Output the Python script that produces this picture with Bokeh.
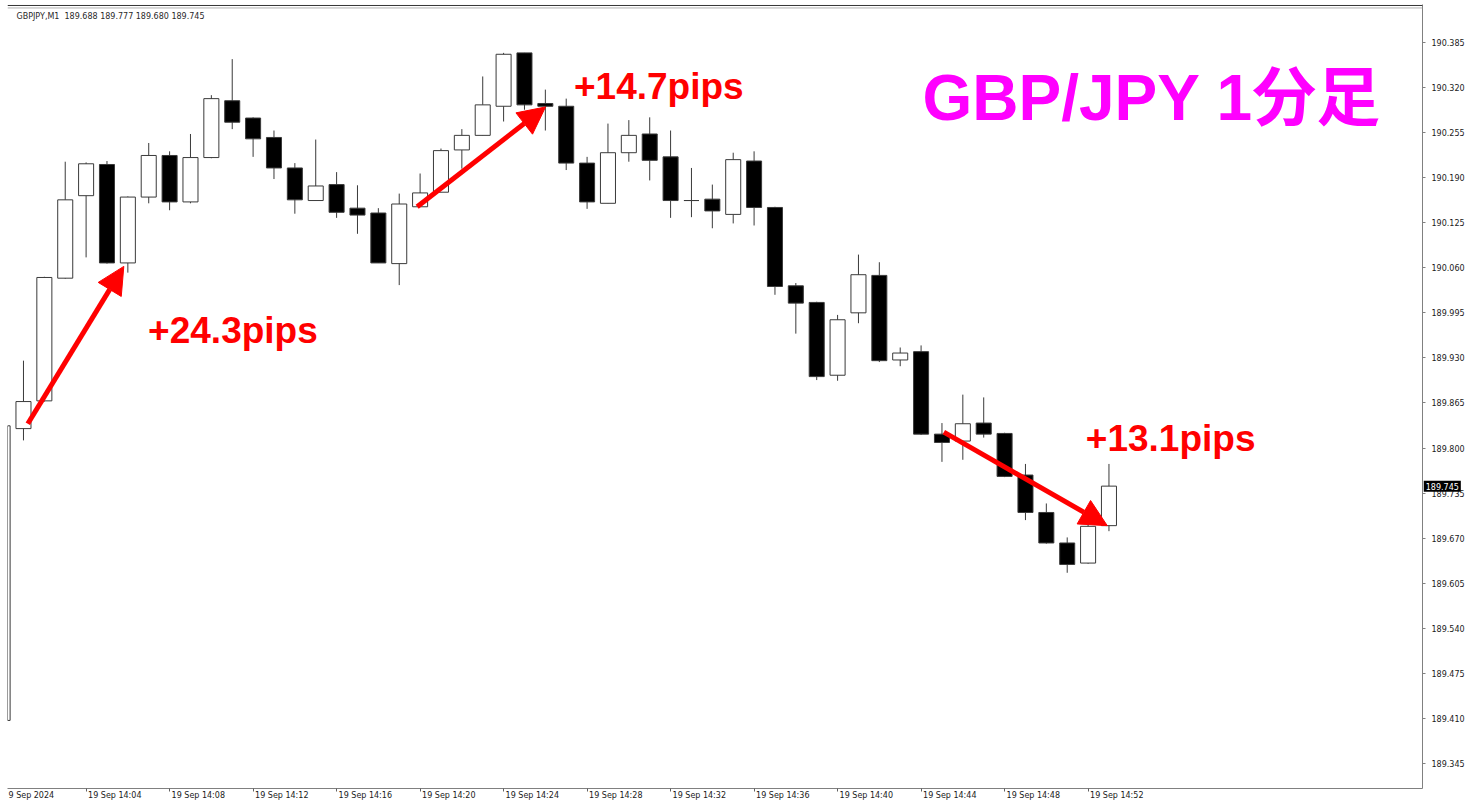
from bokeh.plotting import figure
from bokeh.models import (Range1d, FixedTicker, Label, ColumnDataSource,
                          Arrow, NormalHead, Span, NumeralTickFormatter)
from bokeh.embed import file_html
from bokeh.resources import INLINE

# ---------------- data (GBP/JPY, M1, 19 Sep 2024, 14:00 .. 14:53) ----------------
symbol = "GBPJPY,M1"
minute = list(range(0, 54))  # minutes after 14:00
opens = [189.407, 189.828, 189.868, 190.045, 190.164, 190.209, 190.067, 190.162, 190.222, 190.155,
         190.219, 190.301, 190.276, 190.248, 190.204, 190.157, 190.180, 190.146, 190.139, 190.066,
         190.148, 190.169, 190.230, 190.251, 190.293, 190.370, 190.297, 190.293, 190.211, 190.153,
         190.226, 190.253, 190.220, 190.157, 190.159, 190.137, 190.214, 190.147, 190.034, 190.010,
         189.905, 189.995, 190.049, 189.927, 189.939, 189.820, 189.810, 189.836, 189.821, 189.761,
         189.707, 189.663, 189.634, 189.688]
highs = [189.832, 189.926, 190.047, 190.213, 190.212, 190.214, 190.163, 190.240, 190.228, 190.253,
         190.309, 190.361, 190.277, 190.258, 190.211, 190.245, 190.198, 190.179, 190.146, 190.167,
         190.196, 190.232, 190.260, 190.336, 190.370, 190.370, 190.317, 190.304, 190.220, 190.268,
         190.273, 190.277, 190.258, 190.204, 190.180, 190.226, 190.228, 190.148, 190.038, 190.011,
         189.992, 190.079, 190.068, 189.945, 189.948, 189.836, 189.877, 189.873, 189.822, 189.777,
         189.720, 189.671, 189.693, 189.777]
lows = [189.407, 189.811, 189.867, 190.044, 190.075, 190.066, 190.053, 190.153, 190.143, 190.153,
        190.218, 190.260, 190.220, 190.188, 190.138, 190.157, 190.132, 190.109, 190.067, 190.035,
        190.148, 190.169, 190.203, 190.251, 190.271, 190.288, 190.258, 190.201, 190.145, 190.153,
        190.213, 190.186, 190.132, 190.133, 190.117, 190.124, 190.121, 190.021, 189.965, 189.898,
        189.897, 189.980, 189.924, 189.918, 189.819, 189.780, 189.783, 189.815, 189.758, 189.696,
        189.662, 189.620, 189.633, 189.680]
closes = [189.832, 189.867, 190.046, 190.158, 190.210, 190.067, 190.162, 190.222, 190.155, 190.219,
          190.304, 190.270, 190.246, 190.204, 190.158, 190.178, 190.140, 190.136, 190.067, 190.152,
          190.168, 190.229, 190.251, 190.295, 190.368, 190.295, 190.293, 190.211, 190.155, 190.226,
          190.251, 190.215, 190.157, 190.157, 190.142, 190.216, 190.147, 190.033, 190.009, 189.903,
          189.985, 190.050, 189.926, 189.937, 189.820, 189.808, 189.835, 189.820, 189.759, 189.707,
          189.663, 189.632, 189.687, 189.745]

time_tick_minutes = [4, 8, 12, 16, 20, 24, 28, 32, 36, 40, 44, 48, 52]
time_tick_labels = ["19 Sep 14:04", "19 Sep 14:08", "19 Sep 14:12", "19 Sep 14:16",
                    "19 Sep 14:20", "19 Sep 14:24", "19 Sep 14:28", "19 Sep 14:32",
                    "19 Sep 14:36", "19 Sep 14:40", "19 Sep 14:44", "19 Sep 14:48",
                    "19 Sep 14:52"]
first_time_label = "9 Sep 2024"
price_ticks = [189.345, 189.410, 189.475, 189.540, 189.605, 189.670, 189.735, 189.800,
               189.865, 189.930, 189.995, 190.060, 190.125, 190.190, 190.255, 190.320, 190.385]

title_text = "GBP/JPY 1分足"
pips_texts = ["+24.3pips", "+14.7pips", "+13.1pips"]
pips_x = [6.97, 27.37, 51.89]
pips_y = [189.9695, 190.3215, 189.8137]
arrow_x0 = [1.207, 19.86, 45.09]
arrow_y0 = [189.835, 190.148, 189.823]
arrow_x1 = [5.806, 26.01, 52.92]
arrow_y1 = [190.062, 190.292, 189.688]

# ---------------- figure ----------------
X_START, X_END = 0.2347, 68.02
Y_START, Y_END = 189.3088, 190.4398
Y_TIME_LABELS = 189.3045     # just below the price range (time scale text row)
X_PRICE_MARKER = 68.08       # just right of the time range (price scale column)

p = figure(frame_width=1415, frame_height=784, output_backend="svg", toolbar_location=None,
           title=None, x_range=Range1d(X_START, X_END), y_range=Range1d(Y_START, Y_END),
           y_axis_location="right", min_border_left=7, min_border_top=4,
           min_border_bottom=18, min_border_right=46, background_fill_color="white",
           border_fill_color="white")
p.outline_line_color = None
p.grid.visible = False

# axes
p.yaxis.ticker = FixedTicker(ticks=price_ticks)
p.yaxis.formatter = NumeralTickFormatter(format="0.000")
p.yaxis.major_label_text_font = "DejaVu Sans"
p.yaxis.major_label_text_font_size = "8px"
p.yaxis.major_label_text_color = "#1a1a1a"
p.yaxis.major_label_standoff = 6
p.yaxis.major_tick_in = 0
p.yaxis.major_tick_out = 3
p.yaxis.minor_tick_line_color = None
p.yaxis.axis_line_color = "#808080"
p.yaxis.major_tick_line_color = "#808080"

p.xaxis.ticker = FixedTicker(ticks=time_tick_minutes)
p.xaxis.major_label_overrides = {m: "" for m in time_tick_minutes}
p.xaxis.major_label_standoff = 0
p.xaxis.major_tick_in = 0
p.xaxis.major_tick_out = 3
p.xaxis.minor_tick_line_color = None
p.xaxis.axis_line_color = "#808080"
p.xaxis.major_tick_line_color = "#606060"

# time labels, left-aligned just right of their ticks (MetaTrader style)
for m, t, dx in zip([X_START] + time_tick_minutes, [first_time_label] + time_tick_labels,
                    [1] + [2] * len(time_tick_minutes)):
    p.add_layout(Label(x=m, y=Y_TIME_LABELS, x_offset=dx, text=t, text_font="DejaVu Sans",
                       text_font_size="8px", text_color="#1a1a1a", text_align="left",
                       text_baseline="top"), "below")

# window top border lines
p.add_layout(Span(location=190.4384, dimension="width", line_color="#333333", line_width=1))
p.add_layout(Span(location=190.4348, dimension="width", line_color="#b0b0b0", line_width=1))

# ---------------- candles ----------------
bull = [c > o for o, c in zip(opens, closes)]
src = ColumnDataSource(dict(
    x=minute, high=highs, low=lows,
    top=[max(o, c) for o, c in zip(opens, closes)],
    bottom=[min(o, c) for o, c in zip(opens, closes)],
    fill=["white" if b else "black" for b in bull],
))
p.segment(x0="x", y0="low", x1="x", y1="high", source=src, line_color="#3a3a3a", line_width=1)
p.vbar(x="x", top="top", bottom="bottom", width=0.72, source=src, fill_color="fill",
       line_color="#3a3a3a", line_width=1)

# ---------------- annotations ----------------
for x0, y0, x1, y1 in zip(arrow_x0, arrow_y0, arrow_x1, arrow_y1):
    p.add_layout(Arrow(x_start=x0, y_start=y0, x_end=x1, y_end=y1, line_color="#ff0000",
                       line_width=5,
                       end=NormalHead(size=27, fill_color="#ff0000", line_color="#ff0000",
                                      line_width=1)))

for t, x, y in zip(pips_texts, pips_x, pips_y):
    p.add_layout(Label(x=x, y=y, text=t, text_font="Liberation Sans",
                       text_font_style="bold", text_font_size="37px", text_color="#ff0000",
                       text_baseline="alphabetic", text_align="left"))

p.add_layout(Label(x=44.07, y=190.305, text=title_text,
                   text_font="Liberation Sans, Noto Sans CJK JP",
                   text_font_style="bold", text_font_size="64px", text_color="#ff00ff",
                   text_baseline="alphabetic", text_align="left"))

# header (symbol + last bar OHLC)
header = "%s\u00a0\u00a0%.3f %.3f %.3f %.3f" % (symbol, opens[-1], highs[-1], lows[-1], closes[-1])
p.add_layout(Label(x=9, y=772, x_units="screen", y_units="screen", text=header,
                   text_font="DejaVu Sans", text_font_size="8px",
                   text_color="#2a2a2a", text_baseline="middle", text_align="left"))

# current price marker on the price scale
p.add_layout(Label(x=X_PRICE_MARKER, y=closes[-1], text="%.3f" % closes[-1],
                   text_font="DejaVu Sans", text_font_size="8px", padding=2,
                   text_color="white", background_fill_color="black",
                   text_baseline="middle", text_align="left"), "right")

open("out.html", "w").write(file_html(p, INLINE))
